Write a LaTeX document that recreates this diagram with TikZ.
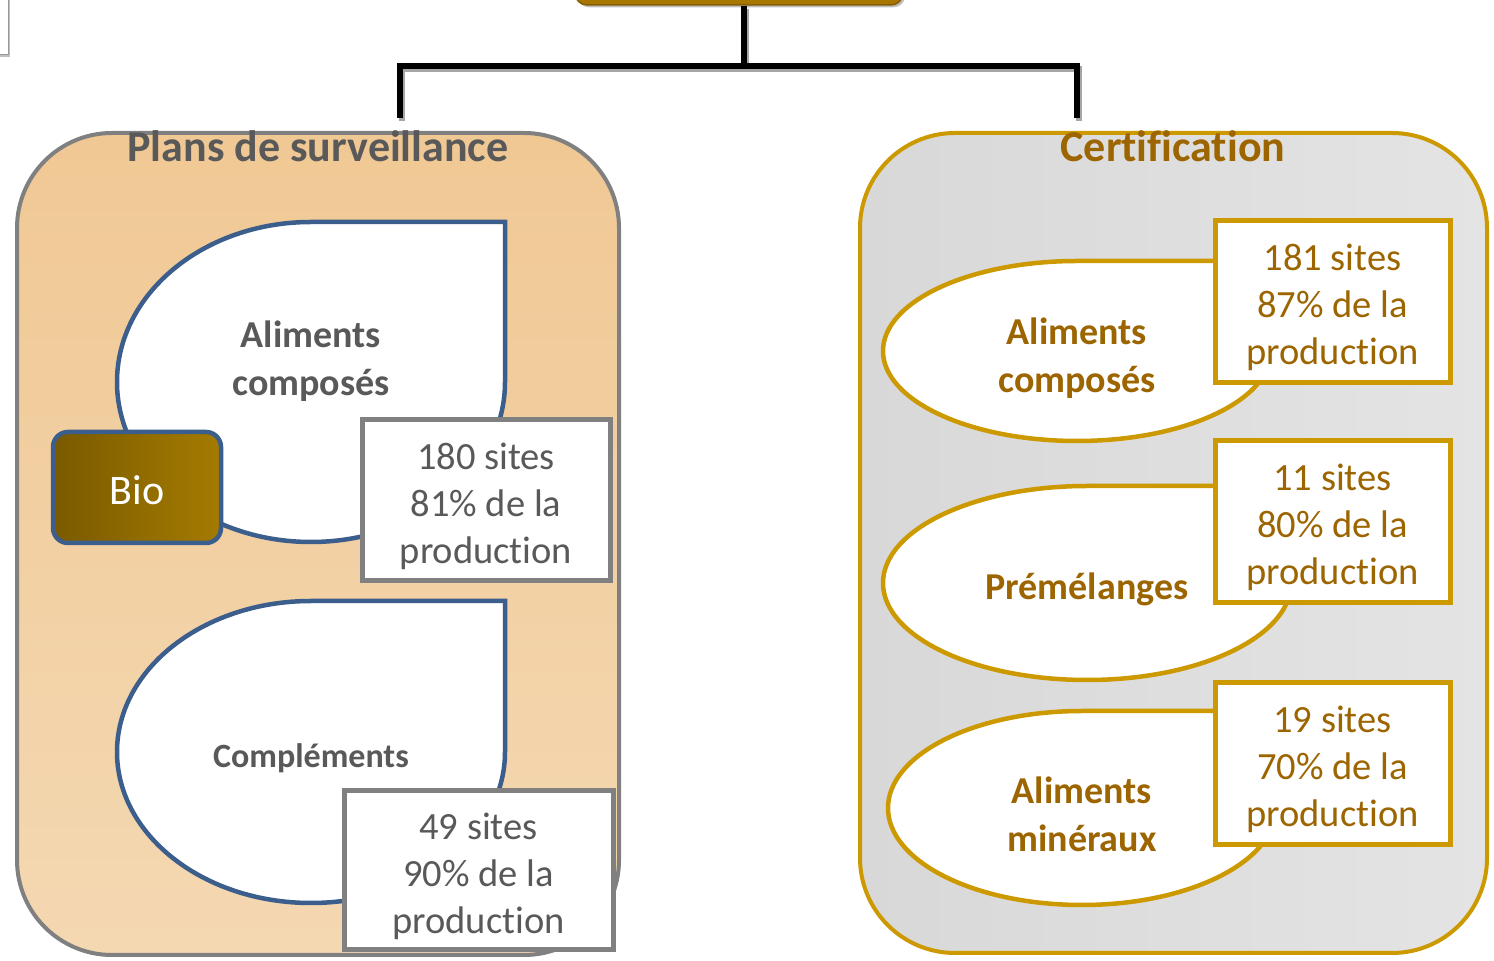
\documentclass[tikz,border=0pt]{standalone}
\usepackage{fontspec}
\setmainfont{Carlito}[Ligatures={NoCommon,NoContextual},Contextuals=NoAlternate]
\usetikzlibrary{positioning,shadows}

\definecolor{gold}{HTML}{CC9900}
\definecolor{goldtext}{HTML}{9C6500}
\definecolor{tearblue}{HTML}{3B5E8C}
\definecolor{greytext}{HTML}{595959}
\definecolor{framegrey}{HTML}{808080}
\definecolor{peachA}{HTML}{F0C894}
\definecolor{peachB}{HTML}{F4D8B2}
\definecolor{silverA}{HTML}{D8D8D8}
\definecolor{silverB}{HTML}{E4E4E4}
\definecolor{bioA}{HTML}{7A5A00}
\definecolor{bioB}{HTML}{A57B00}
\definecolor{rootfill}{HTML}{A87700}
\newcommand{\toppad}{\rule{0pt}{38pt}}

\begin{document}
\begin{tikzpicture}[x=1pt,y=1pt,
 panel/.style={rectangle,rounded corners=95pt,line width=4pt},
 title/.style={font=\fontsize{44}{50}\selectfont\bfseries},
 tearL/.style={draw=tearblue,fill=white,line width=4.5pt},
 tearR/.style={draw=gold,fill=white,line width=4.5pt},
 tearlbl/.style={align=center,font=\fontsize{38}{48}\selectfont\bfseries},
 countbox/.style={rectangle,fill=white,line width=5pt,align=center,font=\fontsize{38.5}{47}\selectfont},
 tree/.style={line width=6pt,preaction={draw=black!35,line width=6pt,transform canvas={shift={(2pt,-3pt)}}}}]
\useasboundingbox (0,0) rectangle (1494,961);

% top of the hierarchy, mostly off the page
\node[draw=framegrey!80,fill=white,line width=1pt,drop shadow,minimum width=100pt,minimum height=100pt] (stub) at (-42,956) {};
\node[rectangle,rounded corners=12pt,fill=rootfill,draw=rootfill!80!black,line width=1.5pt,drop shadow,minimum width=328pt,minimum height=70pt] (root) at (739,991) {};

% the two panels
\node[panel,draw=framegrey,top color=peachA,bottom color=peachB,minimum width=602pt,minimum height=822pt] (plans) at (318,417) {};
\node[panel,draw=gold,left color=silverA,right color=silverB,minimum width=627pt,minimum height=820pt] (cert) at (1173.5,418) {};
\node[title,text=greytext] (plansTitle) at (318,815) {Plans de surveillance};
\node[title,text=goldtext] (certTitle) at (1173,815) {Certification};

\coordinate (plansIn) at (400,843);
\coordinate (certIn) at (1077,843);
\draw[tree] ([xshift=5pt]root.south) -- ++(0,-60) -| (plansIn);
\draw[tree] ([xshift=5pt]root.south) -- ++(0,-60) -| (certIn);

% plans de surveillance
\draw[tearL] (311,739) arc[start angle=90,end angle=360,x radius=194,y radius=160] -- (505,739) -- cycle;
\node[tearlbl,text=greytext] (acL) at (311,600) {Aliments\\compos\'es};
\node[rectangle,rounded corners=15pt,draw=tearblue,line width=4.5pt,left color=bioA,right color=bioB,minimum width=168pt,minimum height=111pt,text=white,font=\fontsize{42}{48}\selectfont,text height=35pt,text depth=0pt] (bio) at (137,473.5) {Bio};
\node[countbox,draw=framegrey,text=greytext,minimum width=248pt,minimum height=161pt] (acLn) at (486,460.5) {\toppad180 sites\\81\% de la\\production};

\draw[tearL] (311,360) arc[start angle=90,end angle=360,x radius=194,y radius=151] -- (505,360) -- cycle;
\node[tearlbl,text=greytext,font=\fontsize{34}{40}\selectfont\bfseries] (comp) at (311,203) {Compl\'ements};
\node[countbox,draw=framegrey,text=greytext,minimum width=269pt,minimum height=159pt] (compn) at (478.5,90.5) {\toppad49 sites\\90\% de la\\production};

% certification
\draw[tearR] (1077,700) arc[start angle=90,end angle=360,x radius=194,y radius=90] -- (1271,700) -- cycle;
\node[tearlbl,text=goldtext] (acR) at (1077,603) {Aliments\\compos\'es};
\node[countbox,draw=gold,text=goldtext,minimum width=235pt,minimum height=162pt] (acRn) at (1332.5,659) {\toppad181 sites\\87\% de la\\production};

\draw[tearR] (1087,475) arc[start angle=90,end angle=360,x radius=204,y radius=97] -- (1291,475) -- cycle;
\node[tearlbl,text=goldtext] (prem) at (1087,372) {Pr\'em\'elanges};
\node[countbox,draw=gold,text=goldtext,minimum width=235pt,minimum height=162pt] (premn) at (1332.5,439) {\toppad11 sites\\80\% de la\\production};

\draw[tearR] (1082,250) arc[start angle=90,end angle=360,x radius=194,y radius=97] -- (1276,250) -- cycle;
\node[tearlbl,text=goldtext] (amin) at (1082,147) {Aliments\\min\'eraux};
\node[countbox,draw=gold,text=goldtext,minimum width=235pt,minimum height=162pt] (aminn) at (1332.5,197) {\toppad19 sites\\70\% de la\\production};
\end{tikzpicture}
\end{document}
